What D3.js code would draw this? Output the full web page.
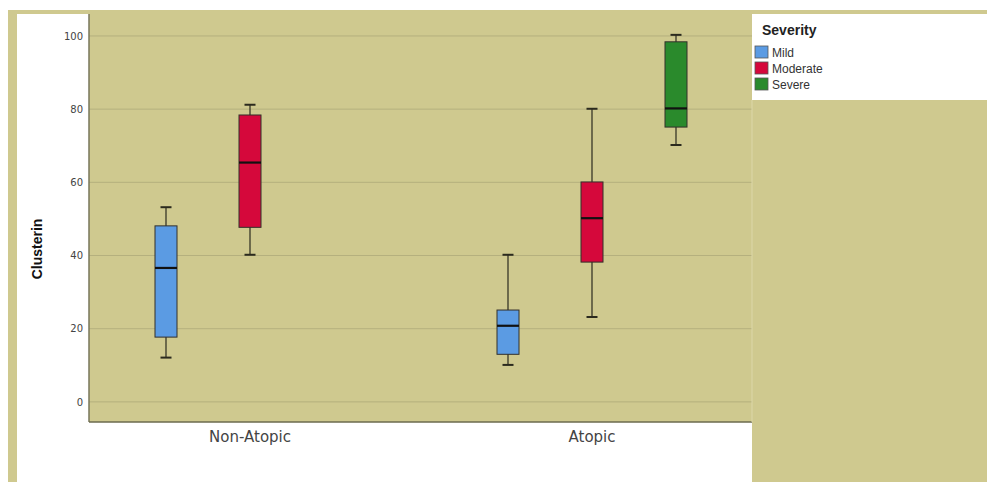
<!DOCTYPE html>
<html>
<head>
<meta charset="utf-8">
<script src="https://cdnjs.cloudflare.com/ajax/libs/d3/7.8.5/d3.min.js"></script>
<style>
body{margin:0;background:#fff;}
svg{display:block;}
</style>
</head>
<body>
<div id="chart"></div>
<script>
// data
var categories = ["Non-Atopic", "Atopic"];
var severities = ["Mild", "Moderate", "Severe"];
var sevColors = ["#5b9be3", "#d5083b", "#2a8a2c"];
var yTicks = [0, 20, 40, 60, 80, 100];

// one entry per box: category, severity, low whisker, Q1, median, Q3, high whisker
var boxCat    = ["Non-Atopic", "Non-Atopic", "Atopic", "Atopic", "Atopic"];
var boxSev    = ["Mild", "Moderate", "Mild", "Moderate", "Severe"];
var boxLow    = [12.1, 40.2, 10.1, 23.2, 70.2];
var boxQ1     = [17.7, 47.7, 13.0, 38.2, 75.1];
var boxMedian = [36.6, 65.4, 20.8, 50.2, 80.2];
var boxQ3     = [48.1, 78.4, 25.1, 60.1, 98.4];
var boxHigh   = [53.2, 81.2, 40.2, 80.1, 100.3];

var W = 987, H = 482;
var bg = "#cfc98f";
var plot = {left: 89, right: 752, top: 14, bottom: 422};

var svg = d3.select("#chart").append("svg")
    .attr("width", W)
    .attr("height", H);

// backgrounds
svg.append("rect").attr("x", 8).attr("y", 10).attr("width", W - 8).attr("height", H - 10).style("fill", bg);
svg.append("rect").attr("x", 17).attr("y", plot.top).attr("width", plot.left - 17).attr("height", H - plot.top).style("fill", "#fff");
svg.append("rect").attr("x", 17).attr("y", plot.bottom).attr("width", plot.right - 17).attr("height", H - plot.bottom).style("fill", "#fff");
svg.append("rect").attr("x", plot.right).attr("y", 14).attr("width", W - plot.right).attr("height", 86).style("fill", "#fff");

var y = d3.scaleLinear().domain([-5.5, 106]).range([plot.bottom, plot.top]);

var x = d3.scaleBand()
    .domain(categories)
    .range([79, 763])
    .paddingInner(0);

var xs = d3.scaleBand()
    .domain(severities)
    .range([45, 297])
    .paddingInner(0);

var color = d3.scaleOrdinal().domain(severities).range(sevColors);

// gridlines
svg.append("g").selectAll(".grid")
    .data(yTicks).enter().append("line")
    .attr("class", "grid")
    .attr("x1", plot.left).attr("x2", plot.right)
    .attr("y1", function(d){ return y(d); })
    .attr("y2", function(d){ return y(d); })
    .style("stroke", "#b5b07e")
    .style("stroke-width", 1);

// y axis
var yAxis = svg.append("g")
    .attr("transform", "translate(" + plot.left + ",0)")
    .call(d3.axisLeft(y).tickValues(yTicks).tickSize(0).tickPadding(6));
yAxis.select(".domain").remove();
yAxis.selectAll("text")
    .style("font-family", "DejaVu Sans")
    .style("font-size", "10px")
    .style("fill", "#444");

// x axis
var xAxis = svg.append("g")
    .attr("transform", "translate(0," + plot.bottom + ")")
    .call(d3.axisBottom(x).tickSize(0).tickPadding(9));
xAxis.select(".domain").remove();
xAxis.selectAll("text")
    .style("font-family", "DejaVu Sans")
    .style("font-size", "15px")
    .style("fill", "#444");

// axis lines
svg.append("line")
    .attr("x1", plot.left).attr("x2", plot.left)
    .attr("y1", plot.top).attr("y2", plot.bottom)
    .style("stroke", "#77765a").style("stroke-width", 1.5);
svg.append("line")
    .attr("x1", plot.left).attr("x2", plot.right)
    .attr("y1", plot.bottom).attr("y2", plot.bottom)
    .style("stroke", "#6b6a4e").style("stroke-width", 1.5);
svg.append("line")
    .attr("x1", plot.right).attr("x2", plot.right)
    .attr("y1", 100).attr("y2", plot.bottom)
    .style("stroke", "#dcd7a8").style("stroke-width", 1);

// y title
svg.append("text")
    .attr("transform", "translate(42,249) rotate(-90)")
    .attr("text-anchor", "middle")
    .style("font-family", "Liberation Sans")
    .style("font-weight", "bold")
    .style("font-size", "14px")
    .style("fill", "#111")
    .text("Clusterin");

// boxes
var boxes = boxCat.map(function(c, i){
    return {cat: c, sev: boxSev[i], low: boxLow[i], q1: boxQ1[i], med: boxMedian[i], q3: boxQ3[i], high: boxHigh[i]};
});

var boxW = 22, capW = 11;
var g = svg.selectAll(".box")
    .data(boxes).enter().append("g")
    .attr("class", "box")
    .attr("transform", function(d){ return "translate(" + (x(d.cat) + xs(d.sev) + xs.bandwidth() / 2) + ",0)"; });

g.append("line")
    .attr("x1", 0).attr("x2", 0)
    .attr("y1", function(d){ return y(d.high); })
    .attr("y2", function(d){ return y(d.low); })
    .style("stroke", "#2b2a1e").style("stroke-width", 1.2);
g.append("line")
    .attr("x1", -capW / 2).attr("x2", capW / 2)
    .attr("y1", function(d){ return y(d.high); })
    .attr("y2", function(d){ return y(d.high); })
    .style("stroke", "#2b2a1e").style("stroke-width", 2);
g.append("line")
    .attr("x1", -capW / 2).attr("x2", capW / 2)
    .attr("y1", function(d){ return y(d.low); })
    .attr("y2", function(d){ return y(d.low); })
    .style("stroke", "#2b2a1e").style("stroke-width", 2);
g.append("rect")
    .attr("x", -boxW / 2)
    .attr("width", boxW)
    .attr("y", function(d){ return y(d.q3); })
    .attr("height", function(d){ return y(d.q1) - y(d.q3); })
    .style("fill", function(d){ return color(d.sev); })
    .style("stroke", "#33302a").style("stroke-width", 1);
g.append("line")
    .attr("x1", -boxW / 2).attr("x2", boxW / 2)
    .attr("y1", function(d){ return y(d.med); })
    .attr("y2", function(d){ return y(d.med); })
    .style("stroke", "#111").style("stroke-width", 2.2);

// legend
var legend = svg.append("g").attr("transform", "translate(755,0)");
legend.append("text")
    .attr("x", 7).attr("y", 35)
    .style("font-family", "Liberation Sans")
    .style("font-weight", "bold")
    .style("font-size", "14px")
    .style("fill", "#222")
    .text("Severity");
var item = legend.selectAll(".item")
    .data(severities).enter().append("g")
    .attr("class", "item")
    .attr("transform", function(d, i){ return "translate(0," + (46 + i * 16) + ")"; });
item.append("rect")
    .attr("width", 13).attr("height", 12)
    .style("fill", function(d){ return color(d); })
    .style("stroke", "#555").style("stroke-width", 0.8);
item.append("text")
    .attr("x", 17).attr("y", 10.5)
    .style("font-family", "Liberation Sans")
    .style("font-size", "12px")
    .style("fill", "#333")
    .text(function(d){ return d; });
</script>
</body>
</html>
